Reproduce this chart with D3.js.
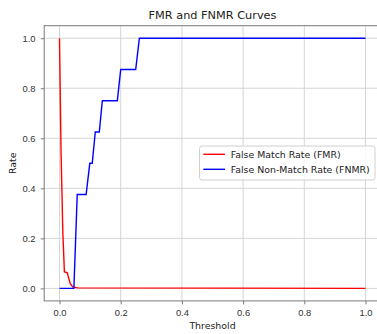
<!DOCTYPE html>
<html>
<head>
<meta charset="utf-8">
<script src="https://cdn.jsdelivr.net/npm/d3@7"></script>
<style>
	body { margin: 0; background: #fff; }
	svg { display: block; font-family: 'DejaVu Sans', sans-serif; }
</style>
</head>
<body>
<div id="chart"></div>
<script>
'use strict';

var chartTitle = 'FMR and FNMR Curves';
var xLabel = 'Threshold';
var yLabel = 'Rate';

var xTicks = [0.0, 0.2, 0.4, 0.6, 0.8, 1.0];
var yTicks = [0.0, 0.2, 0.4, 0.6, 0.8, 1.0];

// false match rate (only the corners of the curve)
var fmrThreshold = [0.000, 0.005, 0.011, 0.016, 0.025, 0.035, 0.043, 0.060, 1.000];
var fmrRate      = [1.000, 0.550, 0.220, 0.066, 0.063, 0.020, 0.006, 0.002, 0.000];

// false non-match rate, step curve
var fnmrThreshold = [0.00, 0.047, 0.058, 0.087, 0.099, 0.107, 0.117, 0.130, 0.140, 0.189, 0.200, 0.249, 0.261, 1.00];
var fnmrRate      = [0.00, 0.000, 0.375, 0.375, 0.500, 0.500, 0.625, 0.625, 0.750, 0.750, 0.875, 0.875, 1.000, 1.00];

var legendNames = ['False Match Rate (FMR)', 'False Non-Match Rate (FNMR)'];
var legendColors = ['red', 'blue'];

function fmrChart () {
	var width = 377,
			height = 334;
	var box = { left: 44.2, right: 380.8, top: 25.7, bottom: 300.9 };

	function toPoints (xs, ys) {
		return xs.map(function (x, i) { return [x, ys[i]]; });
	};

	function styleAxis (g) {
		g.select('.domain').remove();
		g.selectAll('line').attr('stroke', '#7a7a7a').attr('stroke-width', 1);
		g.selectAll('text')
		 .attr('fill', '#333')
		 .style('font-size', '9.4px');
	};

	var svg = d3.select('#chart').append('svg')
							.attr('width', width)
							.attr('height', height);

	var x = d3.scaleLinear().domain([-0.05, 1.05]).range([box.left, box.right]),
			y = d3.scaleLinear().domain([-0.05, 1.05]).range([box.bottom, box.top]);

	// grid
	var grid = svg.append('g').attr('class', 'grid');

	grid.selectAll('.gx').data(xTicks).enter().append('line')
			.attr('x1', function (d) { return x(d); })
			.attr('x2', function (d) { return x(d); })
			.attr('y1', box.top).attr('y2', box.bottom)
			.attr('stroke', '#d6d6d6').attr('stroke-width', 1);

	grid.selectAll('.gy').data(yTicks).enter().append('line')
			.attr('y1', function (d) { return y(d); })
			.attr('y2', function (d) { return y(d); })
			.attr('x1', box.left).attr('x2', box.right)
			.attr('stroke', '#d6d6d6').attr('stroke-width', 1);

	// curves
	var line = d3.line()
							 .x(function (d) { return x(d[0]); })
							 .y(function (d) { return y(d[1]); });

	svg.append('path')
		 .attr('d', line(toPoints(fmrThreshold, fmrRate)))
		 .attr('fill', 'none')
		 .attr('stroke', legendColors[0])
		 .attr('stroke-width', 1.4);

	svg.append('path')
		 .attr('d', line(toPoints(fnmrThreshold, fnmrRate)))
		 .attr('fill', 'none')
		 .attr('stroke', legendColors[1])
		 .attr('stroke-width', 1.4);

	// spines
	svg.append('rect')
		 .attr('x', box.left).attr('y', box.top)
		 .attr('width', box.right - box.left)
		 .attr('height', box.bottom - box.top)
		 .attr('fill', 'none')
		 .attr('stroke', '#7a7a7a')
		 .attr('stroke-width', 1);

	// axes
	svg.append('g')
		 .attr('transform', 'translate(0,' + box.bottom + ')')
		 .call(d3.axisBottom(x).tickValues(xTicks).tickSize(3.5).tickPadding(5)
						 .tickFormat(d3.format('.1f')))
		 .call(styleAxis);

	svg.append('g')
		 .attr('transform', 'translate(' + box.left + ',0)')
		 .call(d3.axisLeft(y).tickValues(yTicks).tickSize(3.5).tickPadding(5.2)
						 .tickFormat(d3.format('.1f')))
		 .call(styleAxis);

	// labels
	svg.append('text')
		 .attr('x', (box.left + box.right) / 2).attr('y', 18.5)
		 .attr('text-anchor', 'middle')
		 .attr('fill', '#222')
		 .style('font-size', '11.3px')
		 .text(chartTitle);

	svg.append('text')
		 .attr('x', (box.left + box.right) / 2).attr('y', 329)
		 .attr('text-anchor', 'middle')
		 .attr('fill', '#222')
		 .style('font-size', '9.4px')
		 .text(xLabel);

	svg.append('text')
		 .attr('transform', 'translate(15.5,' + (box.top + box.bottom) / 2 + ') rotate(-90)')
		 .attr('text-anchor', 'middle')
		 .attr('fill', '#222')
		 .style('font-size', '9.4px')
		 .text(yLabel);

	// legend
	var legend = svg.append('g').attr('transform', 'translate(199.5,146)');

	legend.append('rect')
				.attr('width', 175.5).attr('height', 34)
				.attr('rx', 2.5)
				.attr('fill', '#fff').attr('fill-opacity', 0.85)
				.attr('stroke', '#d0d0d0').attr('stroke-width', 1);

	legendNames.forEach(function (name, i) {
		var cy = 8.3 + i * 15;

		legend.append('line')
					.attr('x1', 3.8).attr('x2', 25.5)
					.attr('y1', cy).attr('y2', cy)
					.attr('stroke', legendColors[i])
					.attr('stroke-width', 1.4);

		legend.append('text')
					.attr('x', 31.2).attr('y', cy)
					.attr('dy', '0.35em')
					.attr('fill', '#222')
					.style('font-size', '9.4px')
					.text(name);
	});
};

fmrChart();
</script>
</body>
</html>
